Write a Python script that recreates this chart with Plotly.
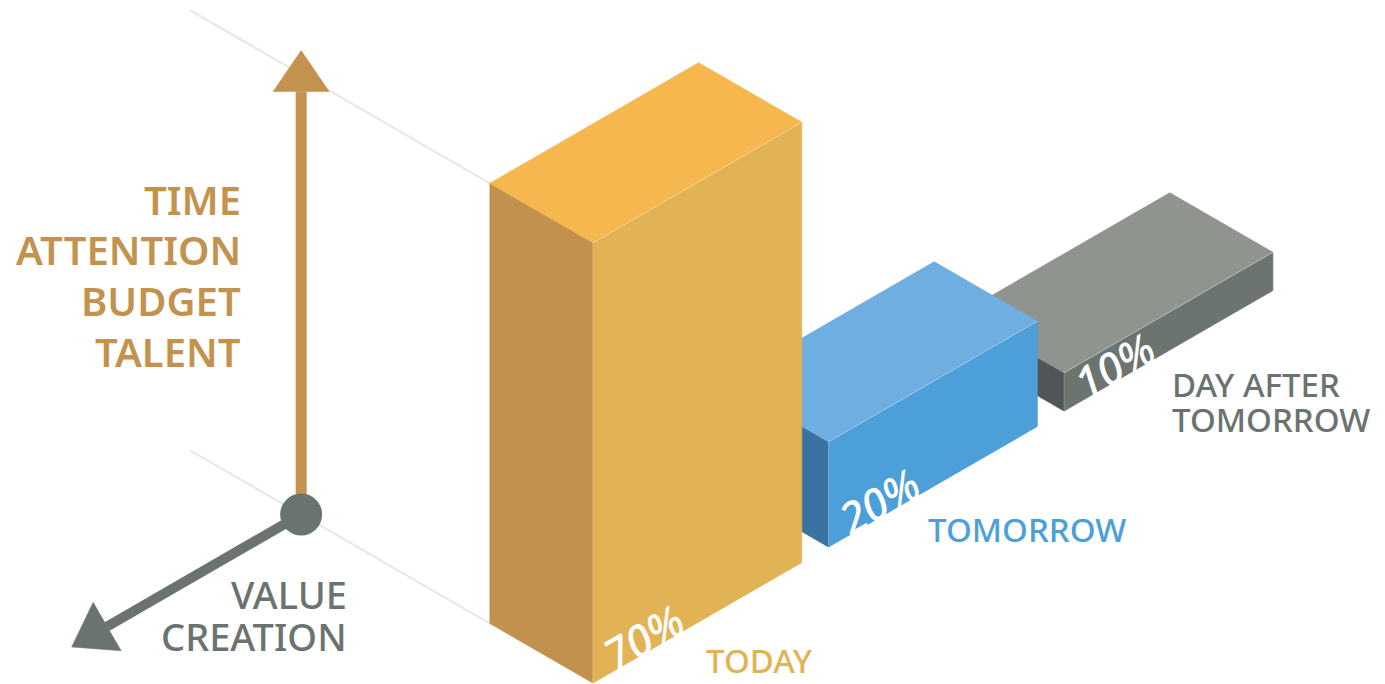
import math
import plotly.graph_objects as go

# ---------------- data ----------------
categories = [["TODAY"], ["TOMORROW"], ["DAY AFTER", "TOMORROW"]]
values = [70, 20, 10]
value_labels = ["70%", "20%", "10%"]
resource_words = ["TIME", "ATTENTION", "BUDGET", "TALENT"]
value_words = ["VALUE", "CREATION"]

# ---------------- styles / layout ----------------
FIG_W, FIG_H = 1385, 684
C30, S30 = math.cos(math.radians(30)), math.sin(math.radians(30))
ORIGIN = (593.0, 683.0)      # screen position of iso origin
BAR_W = 241.0                # bar extent along u (right axis)
BAR_D = 119.0                # bar extent along v (depth axis)
PITCH = 272.0                # spacing between bars along u
Z_SCALE = 6.7                # px per percentage point
Z_BASE = 4.3                 # value at the floor of the z scale
FONT = "Noto Sans, Open Sans, sans-serif"

face_colors = [
    dict(top="#F6B84E", right="#E2B354", left="#C2914E", text="#E2B354"),
    dict(top="#6EAEE0", right="#4D9FDA", left="#3A73A0", text="#4D9FD9"),
    dict(top="#90948F", right="#6C7470", left="#505557", text="#6B7370"),
]
ORANGE = "#C3924E"
GREY = "#6B7370"
GRID = "#E6E6E6"
label_nudge = [(111, -23), (97, -18), (106, -9)]   # label offset from bar front-bottom corner
label_pitch = 34.5


def proj(u, v, z):
    return ORIGIN[0] + C30 * (u - v), ORIGIN[1] - S30 * (u + v) - z


def poly(points, color, line_color=None):
    xs, ys = zip(*[proj(*p) for p in points])
    xs = list(xs) + [xs[0]]
    ys = list(ys) + [ys[0]]
    return go.Scatter(x=xs, y=ys, mode="lines", fill="toself", fillcolor=color,
                      line=dict(color=line_color or color, width=0.8),
                      hoverinfo="skip", showlegend=False)


def seg(p0, p1, color, width):
    (x0, y0), (x1, y1) = p0, p1
    return go.Scatter(x=[x0, x1], y=[y0, y1], mode="lines",
                      line=dict(color=color, width=width),
                      hoverinfo="skip", showlegend=False)


def arrow_head(tip, direction, length=41.0, half=28.0, color=GREY):
    dx, dy = direction
    n = math.hypot(dx, dy)
    dx, dy = dx / n, dy / n
    bx, by = tip[0] - dx * length, tip[1] - dy * length
    px, py = -dy, dx
    xs = [tip[0], bx + px * half, bx - px * half, tip[0]]
    ys = [tip[1], by + py * half, by - py * half, tip[1]]
    return go.Scatter(x=xs, y=ys, mode="lines", fill="toself", fillcolor=color,
                      line=dict(color=color, width=0.5), hoverinfo="skip",
                      showlegend=False), (bx, by)


fig = go.Figure()

heights = [Z_SCALE * (v - Z_BASE) for v in values]

# background guide lines (extensions of the first bar's left face edges)
for zz in (heights[0], 0.0):
    fig.add_trace(seg(proj(0, BAR_D, zz), proj(0, BAR_D + 346, zz), GRID, 2))

# axis glyph
axis_origin = (0.0, BAR_D + 218, 0.0)
ox, oy = proj(*axis_origin)
up_tip = proj(axis_origin[0], axis_origin[1], 464)
head, base = arrow_head(up_tip, (0, -1), color=ORANGE)
fig.add_trace(seg((ox, oy), base, ORANGE, 11))
fig.add_trace(head)
left_tip = proj(axis_origin[0] - 265, axis_origin[1], 0)
head, base = arrow_head(left_tip, (left_tip[0] - ox, left_tip[1] - oy), color=GREY)
fig.add_trace(seg((ox, oy), base, GREY, 10))
fig.add_trace(head)
fig.add_trace(go.Scatter(x=[ox], y=[oy], mode="markers",
                         marker=dict(size=42, color=GREY, line=dict(width=0)),
                         hoverinfo="skip", showlegend=False))

# bars, drawn back to front
for i in reversed(range(len(values))):
    a = i * PITCH
    h = heights[i]
    col = face_colors[i]
    fig.add_trace(poly([(a, 0, 0), (a, BAR_D, 0), (a, BAR_D, h), (a, 0, h)], col["left"]))
    fig.add_trace(poly([(a, 0, 0), (a + BAR_W, 0, 0), (a + BAR_W, 0, h), (a, 0, h)], col["right"]))
    fig.add_trace(poly([(a, 0, h), (a + BAR_W, 0, h), (a + BAR_W, BAR_D, h), (a, BAR_D, h)], col["top"]))
    fig.add_trace(seg(proj(a, 0, h), proj(a + BAR_W, 0, h), "rgba(255,255,255,0.35)", 1))
    fig.add_trace(seg(proj(a, 0, 0), proj(a, 0, h), "rgba(255,255,255,0.18)", 1))

annotations = []
# percentage labels on the bar faces
for i, lab in enumerate(value_labels):
    x, y = proj(i * PITCH + 58, 0, 17)
    annotations.append(dict(x=x, y=y, text=lab, showarrow=False, textangle=-30,
                            xanchor="center", yanchor="middle",
                            font=dict(family=FONT, size=44, color="white", style="italic", weight=500)))

# category labels
for i, lines in enumerate(categories):
    fx, fy = proj(i * PITCH, 0, 0)
    lx = fx + label_nudge[i][0]
    cy = fy + label_nudge[i][1]
    n = len(lines)
    for k, line in enumerate(lines):
        yy = cy + (k - (n - 1) / 2) * label_pitch
        annotations.append(dict(x=lx, y=yy, text=line, showarrow=False,
                                xanchor="left", yanchor="middle",
                                font=dict(family=FONT, size=33, color=face_colors[i]["text"], weight=500)))

# vertical axis words
for k, w in enumerate(resource_words):
    annotations.append(dict(x=243, y=199 + k * 50.8, text=w, showarrow=False,
                            xanchor="right", yanchor="middle",
                            font=dict(family=FONT, size=40, color=ORANGE, weight=600)))
# value axis words
for k, w in enumerate(value_words):
    annotations.append(dict(x=349, y=594 + k * 42, text=w, showarrow=False,
                            xanchor="right", yanchor="middle",
                            font=dict(family=FONT, size=38, color=GREY, weight=500)))

fig.update_layout(
    width=FIG_W, height=FIG_H,
    margin=dict(l=0, r=0, t=0, b=0),
    paper_bgcolor="white", plot_bgcolor="white",
    xaxis=dict(range=[0, FIG_W], visible=False, fixedrange=True),
    yaxis=dict(range=[FIG_H, 0], visible=False, fixedrange=True),
    showlegend=False,
    annotations=annotations,
)

fig.write_html("out.html", config={"displayModeBar": False})
